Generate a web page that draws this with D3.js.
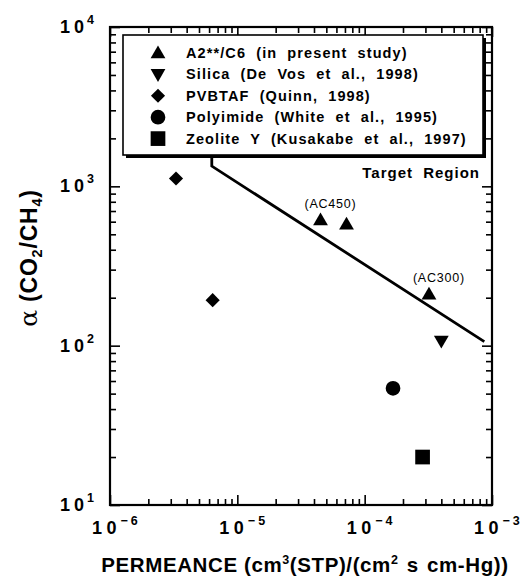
<!DOCTYPE html>
<html><head><meta charset="utf-8">
<script src="https://cdn.jsdelivr.net/npm/d3@7"></script>
<style>body{margin:0;background:#fff}svg{display:block}</style>
</head><body>
<svg id="c" width="528" height="578"></svg>
<script>
// ---- data ----
const seriesNames = ["A2**/C6 (in present study)", "Silica (De Vos et al., 1998)", "PVBTAF (Quinn, 1998)", "Polyimide (White et al., 1995)", "Zeolite Y (Kusakabe et al., 1997)"];
const a2X = [4.5e-5, 7.2e-5, 3.2e-4];
const a2Y = [615, 578, 210];
const a2Labels = ["(AC450)", "", "(AC300)"];
const silicaX = [4.0e-4];
const silicaY = [107];
const pvbtafX = [3.3e-6, 6.4e-6];
const pvbtafY = [1120, 193];
const polyimideX = [1.67e-4];
const polyimideY = [54];
const zeoliteX = [2.85e-4];
const zeoliteY = [20];
const targetX = [6.3e-6, 6.3e-6, 8.7e-4];
const targetY = [2000, 1340, 106];
const xTickExp = [-6, -5, -4, -3];
const yTickExp = [1, 2, 3, 4];

const svg = d3.select("#c");
const L = 110, R = 492, T = 27, B = 505;
const x = d3.scaleLog().domain([1e-6, 1e-3]).range([L, R]);
const y = d3.scaleLog().domain([10, 1e4]).range([B, T]);

const xMajor = xTickExp.map(e => Math.pow(10, e));
const yMajor = yTickExp.map(e => Math.pow(10, e));
const minorOf = (majors) => { const m = []; for (let i = 0; i < majors.length - 1; i++) for (let k = 2; k <= 9; k++) m.push(majors[i] * k); return m; };
const xMinor = minorOf(xMajor), yMinor = minorOf(yMajor);

function styleAxis(g) {
  g.select(".domain").remove();
  g.selectAll(".tick line").attr("stroke", "#000").attr("stroke-width", 1.6);
  g.selectAll("text").remove();
}
const ax = [
  [d3.axisBottom(x), `translate(0,${B})`, -10, -6, xMajor, xMinor],
  [d3.axisTop(x), `translate(0,${T})`, -10, -6, xMajor, xMinor],
  [d3.axisLeft(y), `translate(${L},0)`, -10, -6, yMajor, yMinor],
  [d3.axisRight(y), `translate(${R},0)`, -10, -6, yMajor, yMinor]
];
ax.forEach(([a, tr, big, small, maj, min]) => {
  svg.append("g").attr("transform", tr).call(a.tickValues(maj).tickSize(big).tickFormat("")).call(styleAxis);
  svg.append("g").attr("transform", tr).call(a.tickValues(min).tickSize(small).tickFormat("")).call(styleAxis);
});
svg.append("rect").attr("x", L).attr("y", T).attr("width", R - L).attr("height", B - T)
  .attr("fill", "none").attr("stroke", "#000").attr("stroke-width", 2.2);

const FONT = "'Liberation Sans', Arial, Helvetica, sans-serif";

// tick labels
xTickExp.forEach(e => {
  const t = svg.append("text").attr("x", x(Math.pow(10, e)) - 18).attr("y", 534)
    .attr("font-family", FONT).attr("font-weight", "bold").attr("font-size", 18);
  t.append("tspan").attr("letter-spacing", 4.5).text("1");
  t.append("tspan").text("0");
  t.append("tspan").attr("font-size", 12.5).attr("dy", -9).attr("dx", 4).attr("letter-spacing", 3).text("\u2212" + Math.abs(e));
});
yTickExp.forEach(e => {
  const t = svg.append("text").attr("x", 60).attr("y", y(Math.pow(10, e)) + 6)
    .attr("font-family", FONT).attr("font-weight", "bold").attr("font-size", 18);
  t.append("tspan").attr("letter-spacing", 4).text("1");
  t.append("tspan").text("0");
  t.append("tspan").attr("font-size", 12.5).attr("dy", -9).attr("dx", 3).text(String(e));
});

// axis titles
const xt = svg.append("text").attr("x", 305).attr("y", 572).attr("text-anchor", "middle")
  .attr("font-family", FONT).attr("font-weight", "bold").attr("font-size", 20.5).attr("letter-spacing", 0.6);
xt.append("tspan").text("PERMEANCE (cm");
xt.append("tspan").attr("font-size", 12.5).attr("dy", -8).text("3");
xt.append("tspan").attr("dy", 8).text("(STP)/(cm");
xt.append("tspan").attr("font-size", 12.5).attr("dy", -8).text("2");
xt.append("tspan").attr("dy", 8).attr("word-spacing", 2).text(" s cm-Hg))");

const yt = svg.append("text").attr("transform", "translate(37,258) rotate(-90)").attr("text-anchor", "middle")
  .attr("font-family", FONT).attr("font-weight", "bold").attr("font-size", 23).attr("letter-spacing", 0.8);
yt.append("tspan").attr("font-weight", "normal").attr("font-family", "'DejaVu Serif', serif").attr("font-size", 25).text("\u03b1");
yt.append("tspan").text(" (CO");
yt.append("tspan").attr("font-size", 14.5).attr("dy", 5).text("2");
yt.append("tspan").attr("dy", -5).text("/CH");
yt.append("tspan").attr("font-size", 14.5).attr("dy", 5).text("4");
yt.append("tspan").attr("dy", -5).text(")");

// target line
svg.append("path").datum(targetX.map((v, i) => [v, targetY[i]]))
  .attr("d", d3.line().x(d => x(d[0])).y(d => y(d[1])))
  .attr("fill", "none").attr("stroke", "#000").attr("stroke-width", 2.8);

// markers
const sym = {
  tri: d3.symbol().type(d3.symbolTriangle).size(95),
  sq: d3.symbol().type(d3.symbolSquare).size(216),
  dia: d3.symbol().type(d3.symbolSquare).size(100),
  circ: d3.symbol().type(d3.symbolCircle).size(170)
};
const series = [
  {xs: a2X, ys: a2Y, s: sym.tri, rot: 0, dy: 1},
  {xs: silicaX, ys: silicaY, s: sym.tri, rot: 180, dy: -1},
  {xs: pvbtafX, ys: pvbtafY, s: sym.dia, rot: 45, dy: 0},
  {xs: polyimideX, ys: polyimideY, s: sym.circ, rot: 0, dy: 0},
  {xs: zeoliteX, ys: zeoliteY, s: sym.sq, rot: 0, dy: 0}
];
series.forEach(sr => {
  svg.append("g").selectAll("path").data(sr.xs.map((v, i) => [v, sr.ys[i]])).join("path")
    .attr("d", sr.s()).attr("fill", "#000")
    .attr("transform", d => `translate(${x(d[0])},${y(d[1]) + sr.dy}) rotate(${sr.rot})`);
});

// point labels
svg.append("g").selectAll("text").data(a2X.map((v, i) => [v, a2Y[i], a2Labels[i]]).filter(d => d[2])).join("text")
  .attr("x", d => x(d[0]) + 10).attr("y", d => y(d[1]) - 12).attr("text-anchor", "middle")
  .attr("font-family", FONT).attr("font-size", 12.5).attr("letter-spacing", 0.8).text(d => d[2]);

svg.append("text").attr("x", 480).attr("y", 178).attr("text-anchor", "end")
  .attr("font-family", FONT).attr("font-weight", "bold").attr("font-size", 15).attr("word-spacing", 5).attr("letter-spacing", 1)
  .text("Target Region");

// legend
const lg = svg.append("g");
lg.append("rect").attr("x", 126).attr("y", 38).attr("width", 360).attr("height", 120).attr("fill", "#000");
lg.append("rect").attr("x", 123).attr("y", 35).attr("width", 360).attr("height", 120)
  .attr("fill", "#fff").attr("stroke", "#000").attr("stroke-width", 1.6);
series.forEach((sr, i) => {
  const cy = 53 + i * 21.4;
  lg.append("path").attr("d", sr.s()).attr("fill", "#000")
    .attr("transform", `translate(158,${cy + sr.dy}) rotate(${sr.rot})`);
  lg.append("text").attr("x", 186).attr("y", cy + 5).attr("font-family", FONT).attr("font-weight", "bold")
    .attr("font-size", 14.5).attr("word-spacing", 5).attr("letter-spacing", 1.1).text(seriesNames[i]);
});
</script>
</body></html>
